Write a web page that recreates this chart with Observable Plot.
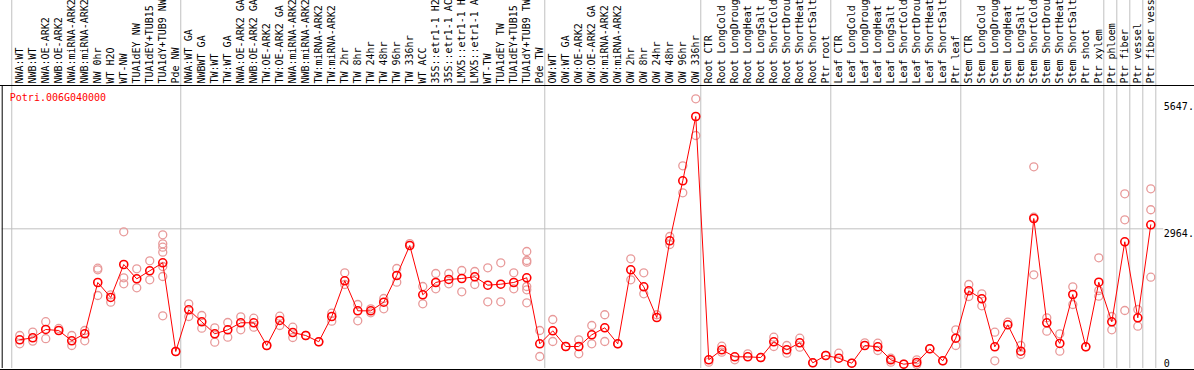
<!DOCTYPE html>
<html><head><meta charset="utf-8">
<script src="https://cdn.jsdelivr.net/npm/d3@7"></script>
<script src="https://cdn.jsdelivr.net/npm/@observablehq/plot@0.6"></script>
<style>body{margin:0;background:#fff} svg{display:block}</style>
</head><body><div id="chart"></div>
<script>
const geneId = "Potri.006G040000";
const labels = [
  "NWA:WT","NWB:WT","NWA:OE-ARK2","NWB:OE-ARK2","NWA:miRNA-ARK2","NWB:miRNA-ARK2","NW 0hr","WT H2O","WT-NW","TUA1dEY NW","TUA1dEY+TUB15","TUA1dY+TUB9 NW","Pde NW",
  "NWA:WT GA","NWBWT GA","TW:WT","TW:WT GA","NWA:OE-ARK2 GA","NWB:OE-ARK2 GA","TW:OE-ARK2","TW:OE-ARK2 GA","NWA:miRNA-ARK2","NWB:miRNA-ARK2","TW:miRNA-ARK2","TW:miRNA-ARK2",
  "TW 2hr","TW 8hr","TW 24hr","TW 48hr","TW 96hr","TW 336hr","WT ACC","35S::etr1-1 H2O","35S::etr1-1 ACC","LMX5::etr1-1 H2O","LMX5::etr1-1 ACC","WT-TW","TUA1dEY TW","TUA1dEY+TUB15","TUA1dY+TUB9 TW","Pde TW",
  "OW:WT","OW:WT GA","OW:OE-ARK2","OW:OE-ARK2 GA","OW:miRNA-ARK2","OW:miRNA-ARK2","OW 2hr","OW 8hr","OW 24hr","OW 48hr","OW 96hr","OW 336hr",
  "Root CTR","Root LongCold","Root LongDrought","Root LongHeat","Root LongSalt","Root ShortCold","Root ShortDrought","Root ShortHeat","Root ShortSalt","Ptr root",
  "Leaf CTR","Leaf LongCold","Leaf LongDrought","Leaf LongHeat","Leaf LongSalt","Leaf ShortCold","Leaf ShortDrought","Leaf ShortHeat","Leaf ShortSalt","Ptr leaf",
  "Stem CTR","Stem LongCold","Stem LongDrought","Stem LongHeat","Stem LongSalt","Stem ShortCold","Stem ShortDrought","Stem ShortHeat","Stem ShortSalt","Ptr shoot","Ptr xylem",
  "Ptr phloem","Ptr fiber","Ptr vessel","Ptr fiber vessel"
];
const means = [
  609, 651, 828, 806, 588, 736, 1825, 1507, 2207, 1903, 2073, 2243, 361,
  1246, 991, 736, 821, 970, 970, 488, 1019, 764, 700, 567, 1103, 1861, 1224, 1224, 1407, 1973, 2610, 1564, 1825, 1889, 1910, 1946, 1768, 1789, 1825, 1925, 524,
  800, 467, 467, 715, 864, 524, 2094, 1734, 1082, 2710, 3983, 5347,
  185, 397, 248, 248, 233, 567, 397, 545, 121, 276,
  219, 112, 488, 460, 185, 91, 127, 418, 163, 643,
  1649, 1479, 460, 927, 367, 3183, 970, 531, 1570, 460, 1831,
  991, 2689, 1076, 3049
];
const replicates = [
  [700,524],[772,581],[993,632],[850],[700,488],[806,588],[2128,2094,1549],[1564,1407],[2901,1925,1797],[2116,1712],[2285,1882],[2837,2646,2574,2468,2164,1952,1118],[361],
  [1373,1103],[1125,855],[864,558],[976,664],[1097,821],[1067,876],[488],[1110,912],[876,658],[700],[567],[1173,1004],
  [2031,1782],[1358,1012],[1267,1182],[1485,1267],[2122,1831],[2650],[1740,1373],[2016,1691],[2016,1797],[2080,1628],[2058,1782],[2137,1415],[2243,1415],[2031,1691],[2483,2292,2256,1740,1670,1394],[806,255],
  [1040,573],[467],[609,312],[912,524],[1140,573],[524],[2328,1882],[2031,1585],[1140],[2801,2631],[4301,3728],[5723,4944],
  [134],[473,346],[185],[312],[233],[664,467],[488,325],[643,452],[121],[276],
  [325],[112],[545],[537,382],[219,134],[91],[185,85],[418],[163],[821,488],
  [1782,1528],[1585,1330],[770,163],[982],[488,297],[4280,3211,1988],[1076,792],[736,367],[1734,1358],[460],[2349,1655,1534],
  [1103,821],[3707,3155,1231],[1252,898],[3813,3368,1937]
];
const groupStarts = [0, 13, 41, 53, 63, 73, 84, 85, 86, 87, 88];
const yTicks = [5647, 2964];
const yTickLabels = ["5647.", "2964."];
const zeroLabel = ["0"];
const xDomain = [-1.35, 88];
const yDomain = [0, 6005];

const meanRows = means.map((v, i) => ({i, v}));
const repRows = replicates.flatMap((arr, i) => arr.map(v => ({i, v})));
const font = "'DejaVu Sans Mono', monospace";

const chart = Plot.plot({
  width: 1194, height: 370,
  marginLeft: 0, marginRight: 0, marginTop: 0, marginBottom: 2,
  x: {type: "linear", domain: xDomain, range: [1.7, 1163.3], axis: null},
  y: {domain: yDomain, range: [368, 85], axis: null},
  style: {fontFamily: font, fontSize: "10px", background: "white", overflow: "hidden"},
  marks: [
    Plot.ruleX(groupStarts, {x: d => d - 0.5, dx: -1.5, stroke: "#c0c0c0", strokeWidth: 1}),
    Plot.ruleY([2964], {x1: xDomain[0], x2: xDomain[1], stroke: "#c0c0c0", strokeWidth: 1}),
    Plot.ruleY([yDomain[1]], {stroke: "black", strokeWidth: 1}),
    Plot.ruleY([0], {stroke: "black", strokeWidth: 1, dy: 1}),
    Plot.ruleX([xDomain[0]], {y1: 0, y2: yDomain[1], stroke: "black", strokeWidth: 1}),
    Plot.text(labels, {x: (d, i) => i, y: yDomain[1], text: d => d, rotate: -90, textAnchor: "start", lineAnchor: "middle", dy: -2, fill: "black"}),
    Plot.text([geneId], {x: xDomain[0], y: yDomain[1], text: d => d, dx: 7.6, dy: 12, textAnchor: "start", lineAnchor: "middle", fill: "red"}),
    Plot.text(yTicks, {x: xDomain[1], y: d => d, text: (d, i) => yTickLabels[i], textAnchor: "start", lineAnchor: "top", dy: 1, fill: "black"}),
    Plot.text([0], {x: xDomain[1], y: d => d, text: (d, i) => zeroLabel[i], textAnchor: "start", lineAnchor: "bottom", dy: -2, fill: "black"}),
    Plot.dot(repRows, {x: "i", y: "v", r: 4, stroke: "#e89a9a", strokeWidth: 1.3, fill: "none"}),
    Plot.line(meanRows, {x: "i", y: "v", stroke: "red", strokeWidth: 1}),
    Plot.dot(meanRows, {x: "i", y: "v", r: 4, stroke: "red", strokeWidth: 1.6, fill: "none"})
  ]
});
document.getElementById("chart").appendChild(chart);
</script>
</body></html>
